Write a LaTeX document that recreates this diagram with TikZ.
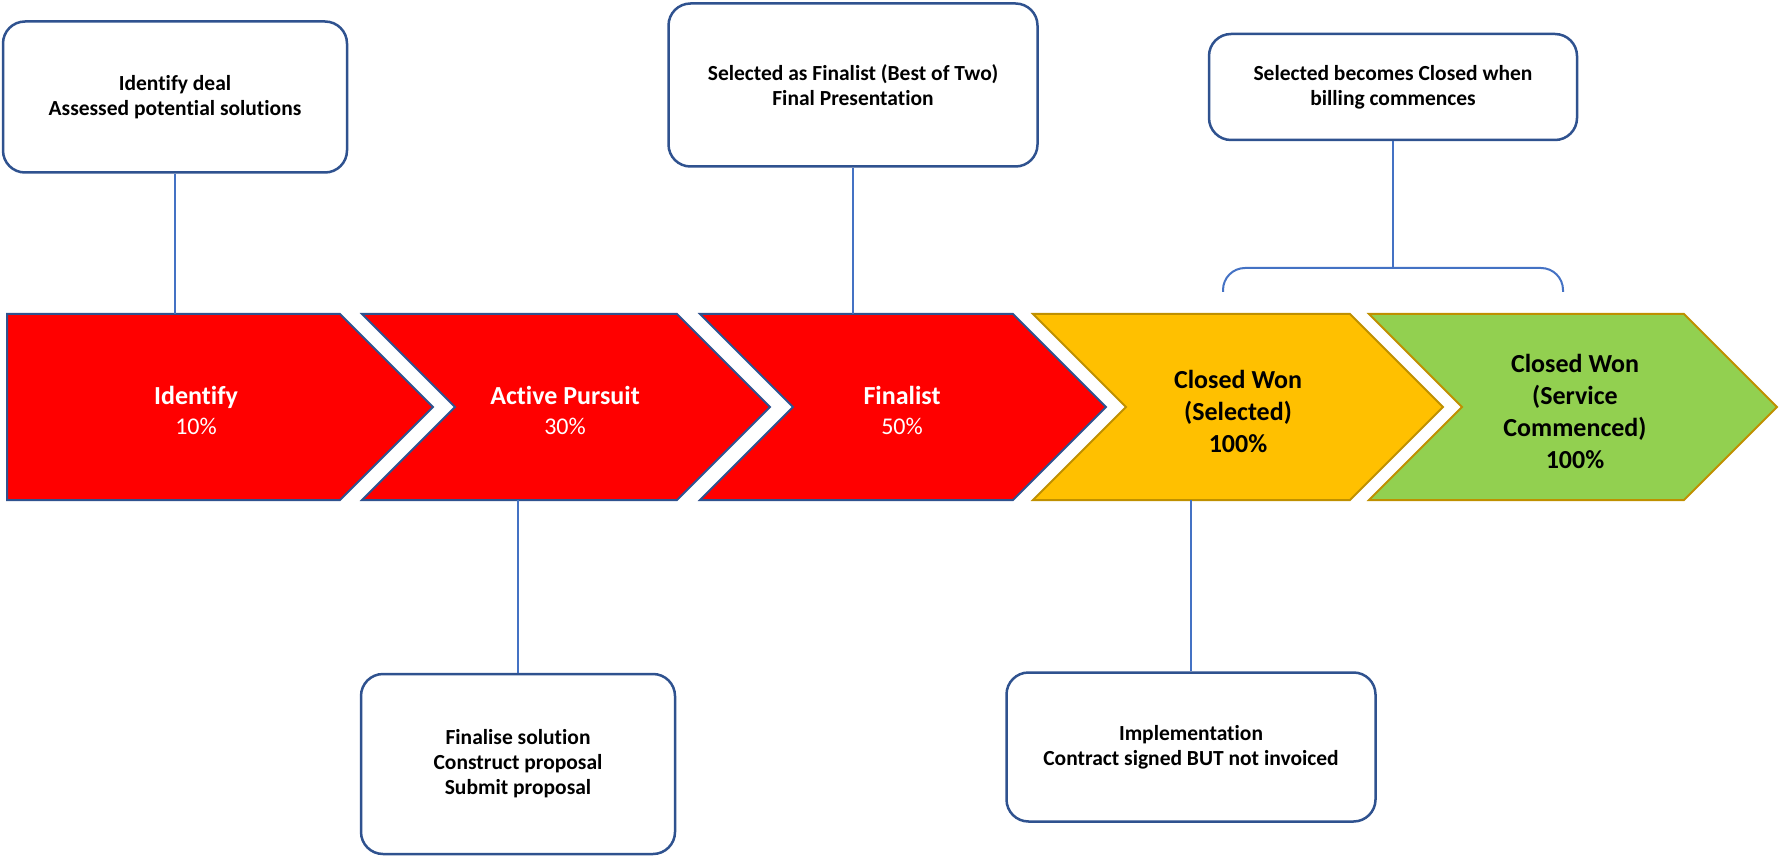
\documentclass[tikz,border=0pt]{standalone}
\usepackage{fontspec}
\setmainfont{Carlito}[Ligatures=NoCommon]
\usepackage{xcolor}
\usetikzlibrary{calc, positioning}

\definecolor{stagered}{HTML}{FF0000}
\definecolor{edgeblue}{HTML}{2F528F}
\definecolor{wonyellow}{HTML}{FFC000}
\definecolor{wongreen}{HTML}{92D050}
\definecolor{wonedge}{HTML}{BF9000}
\definecolor{linkblue}{HTML}{4472C4}

\begin{document}
\begin{tikzpicture}[
        x=1pt, y=-1pt,
        redstage/.style={fill=stagered, draw=edgeblue, line width=2pt},
        selstage/.style={fill=wonyellow, draw=wonedge, line width=2pt},
        livestage/.style={fill=wongreen, draw=wonedge, line width=2pt},
        stagetext/.style={align=center, text=white, font=\fontsize{26}{30}\selectfont\bfseries},
        wontext/.style={align=center, text=black, font=\fontsize{26}{32}\selectfont\bfseries},
        notebox/.style={draw=edgeblue, line width=2.5pt, rounded corners=22pt, fill=white,
            align=center, font=\fontsize{21.5}{25}\selectfont\bfseries},
        link/.style={draw=linkblue, line width=1.2pt}
    ]
    \useasboundingbox (0,0) rectangle (1779,858);

    \coordinate (railtop) at (0,314);
    \coordinate (railbot) at (0,500);
    \coordinate (bracket) at (1393,268);

    \filldraw[redstage] (7,314) -- (340,314) -- ++(93,93) -- (340,500) -- (7,500) -- cycle;
    \foreach \l/\r/\sty in {362/677/redstage, 700/1013/redstage, 1033/1350/selstage, 1369/1684/livestage}
        \filldraw[\sty] (\l,314) -- (\r,314) -- ++(93,93) -- (\r,500) -- (\l,500) -- ++(93,-93) -- cycle;

    \node[stagetext] (identify) at (196,410) {Identify\\{\fontsize{24}{30}\mdseries 10\%}};
    \node[stagetext] (pursuit) at (565,410) {Active Pursuit\\{\fontsize{24}{30}\mdseries 30\%}};
    \node[stagetext] (finalist) at (902,410) {Finalist\\{\fontsize{24}{30}\mdseries 50\%}};
    \node[wontext] (selected) at (1238,411) {Closed Won\\(Selected)\\100\%};
    \node[wontext] (commenced) at (1575,411) {Closed Won\\(Service\\Commenced)\\100\%};

    \draw[link, line width=2pt, rounded corners=22pt] (1223,292) -- (1223,268) -- (1563,268) -- (1563,292);

    \node[notebox, minimum width=344, minimum height=151] (deal) at (175,97) {Identify deal\\Assessed potential solutions};
    \node[notebox, minimum width=369, minimum height=163] (best) at (853,85) {Selected as Finalist (Best of Two)\\Final Presentation};
    \node[notebox, minimum width=368, minimum height=106] (billing) at (1393,87) {Selected becomes Closed when\\billing commences};
    \node[notebox, minimum width=314, minimum height=180] (proposal) at (518,764) {Finalise solution\\Construct proposal\\Submit proposal};
    \node[notebox, minimum width=369, minimum height=149] (implement) at (1191,747) {Implementation\\Contract signed BUT not invoiced};

    \draw[link] (deal.south) -- (deal.south |- railtop);
    \draw[link] (best.south) -- (best.south |- railtop);
    \draw[link] (billing.south) -- (billing.south |- bracket);
    \draw[link] (proposal.north) -- (proposal.north |- railbot);
    \draw[link] (implement.north) -- (implement.north |- railbot);
\end{tikzpicture}
\end{document}
